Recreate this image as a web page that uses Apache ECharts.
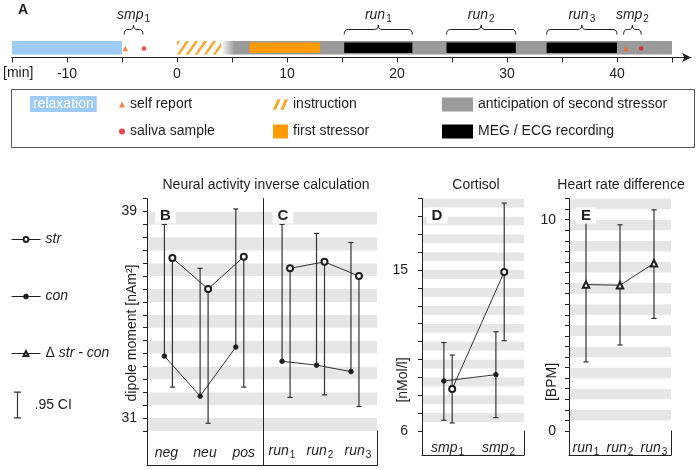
<!DOCTYPE html>
<html>
<head>
<meta charset="utf-8">
<title>Stress protocol and results</title>
<script src="https://cdn.jsdelivr.net/npm/echarts@6/dist/echarts.min.js"></script>
<style>
html, body { margin: 0; padding: 0; background: #fff; }
#chart { width: 699px; height: 470px; }
</style>
</head>
<body>
<div id="chart"></div>
<script>
// ---------- data ----------
// timeline (minutes)
var relaxation = [[-15, -5]];
var instruction = [[0, 4]];
var anticipation = [[4, 45]];
var firstStressor = [[6.6, 13]];
var recordings = [[15.2, 21.4], [24.5, 30.8], [33.6, 40]];
var selfReportTimes = [-4.7, 40.8];
var salivaTimes = [-3, 42.2];
var braceRanges = [[-4.8, -3.1], [15.2, 21.4], [24.5, 30.8], [33.6, 40], [40.6, 42.2]];
var braceLabels = ['smp1', 'run1', 'run2', 'run3', 'smp2'];

// categories
var emotionCats = ['neg', 'neu', 'pos'];
var runCats = ['run1', 'run2', 'run3'];
var sampleCats = ['smp1', 'smp2'];

// B: dipole moment by emotion
var bStrMean = [37.2, 36.0, 37.25];
var bStrLow = [32.2, 30.8, 32.2];
var bConMean = [33.4, 31.85, 33.75];
var bConHigh = [38.5, 36.8, 39.1];

// C: dipole moment by run
var cStrMean = [36.8, 37.05, 36.5];
var cStrLow = [31.8, 31.9, 31.45];
var cConMean = [33.2, 33.05, 32.8];
var cConHigh = [38.5, 38.15, 37.8];

// D: cortisol
var dStrMean = [8.35, 14.9];
var dStrLow = [6.45, 11.05];
var dStrHigh = [10.25, 18.75];
var dConMean = [8.8, 9.15];
var dConLow = [6.6, 6.75];
var dConHigh = [10.95, 11.55];

// E: heart rate difference
var eDiffMean = [6.93, 6.9, 7.94];
var eDiffLow = [3.27, 4.07, 5.33];
var eDiffHigh = [10.5, 9.76, 10.47];

// ---------- style ----------
var INK = '#1e1e1e', BAR_INK = '#333', STRIPE = '#e6e6e6';
var BLUE = '#9ecbf4', ORANGE = '#ff9a00', HATCH = '#f7a830', GRAY = '#9b9b9b';
var REPORT = '#f06a1e', SALIVA = '#e1191e';
var FONT = '"Liberation Sans", Arial, sans-serif';
var FRAME = { color: '#222', width: 1 };
var MAIN_TOP = 198.6, MAIN_H = 232.4;
var CAP = 2.6;
var CI_PATH = 'path://M0,0h7v1.2h-2.9v24.6h2.9v1.2h-7v-1.2h2.9v-24.6h-2.9z';
var HATCH_PATH = 'path://M4,0L7,0L3,10L0,10Z M11,0L14,0L10,10L7,10Z';

var AXIS_RICH = {
  i: { fontSize: 14, fontStyle: 'italic', color: INK, fontFamily: FONT },
  s: { fontSize: 10, fontStyle: 'normal', color: INK, fontFamily: FONT, padding: [8, 0, 0, 1] }
};
var ZR_RICH = {
  i: { fontSize: 14, fontStyle: 'italic', fill: INK, fontFamily: FONT },
  s: { fontSize: 10, fontStyle: 'normal', fill: INK, fontFamily: FONT, padding: [8, 0, 0, 1] }
};

function sub(s) {
  var m = /^([a-z]+)(\d)$/.exec(s);
  return m ? '{i|' + m[1] + '}{s|' + m[2] + '}' : '{i|' + s + '}';
}

var grids = [], xAxes = [], yAxes = [], series = [];

function grid(left, top, width, height) {
  grids.push({ left: left, top: top, width: width, height: height, outerBoundsMode: 'none' });
  return grids.length - 1;
}
function addX(o) { xAxes.push(o); return xAxes.length - 1; }
function addY(o) { yAxes.push(o); return yAxes.length - 1; }

function frameAxis(g, pos) {
  return {
    gridIndex: g, type: 'value', position: pos, min: 0, max: 1,
    axisLine: { show: true, onZero: false, lineStyle: FRAME },
    axisTick: { show: false }, axisLabel: { show: false }, splitLine: { show: false }
  };
}

// category strip under a panel: bottom line, side lines, labels
function strip(left, width, height, cats, margin) {
  var g = grid(left, MAIN_TOP + MAIN_H, width, height);
  addX({
    gridIndex: g, type: 'category', data: cats, boundaryGap: true,
    axisLine: { show: true, onZero: false, lineStyle: FRAME },
    axisTick: { show: false }, splitLine: { show: false },
    axisLabel: { inside: true, margin: margin, interval: 0, formatter: sub, rich: AXIS_RICH }
  });
  addY(frameAxis(g, 'left'));
  addY(frameAxis(g, 'right'));
}

function valueAxis(g, min, max, interval, o) {
  var a = {
    gridIndex: g, type: 'value', min: min, max: max, interval: interval,
    axisLine: { show: true, onZero: false, lineStyle: FRAME },
    axisTick: { show: true, length: 4, lineStyle: FRAME },
    axisLabel: { show: false },
    splitLine: { show: false },
    splitArea: { show: false }
  };
  for (var k in o) a[k] = o[k];
  return addY(a);
}

function labelsAt(list, margin) {
  return {
    margin: margin, fontSize: 14, color: INK, fontFamily: FONT,
    formatter: function (v) { return list.indexOf(v) >= 0 ? String(v) : ''; }
  };
}

function renderCI(params, api) {
  var x = api.value(0);
  var p1 = api.coord([x, api.value(1)]);
  var p2 = api.coord([x, api.value(2)]);
  var st = { stroke: BAR_INK, lineWidth: 1.2 };
  var kids = [
    { type: 'line', shape: { x1: p1[0], y1: p1[1], x2: p2[0], y2: p2[1] }, style: st },
    { type: 'line', shape: { x1: p2[0] - CAP, y1: p2[1], x2: p2[0] + CAP, y2: p2[1] }, style: st }
  ];
  if (api.value(3)) {
    kids.push({ type: 'line', shape: { x1: p1[0] - CAP, y1: p1[1], x2: p1[0] + CAP, y2: p1[1] }, style: st });
  }
  return { type: 'group', children: kids };
}

function ciSeries(xi, yi, rows) {
  return {
    type: 'custom', name: '.95 CI', xAxisIndex: xi, yAxisIndex: yi,
    itemStyle: { color: BAR_INK }, renderItem: renderCI, data: rows, z: 2, silent: true
  };
}

function meanSeries(name, xi, yi, pts, symbol, size) {
  return {
    type: 'line', name: name, xAxisIndex: xi, yAxisIndex: yi, data: pts,
    symbol: symbol, symbolSize: size, silent: true, z: 3,
    lineStyle: { color: INK, width: 0.9 },
    itemStyle: { color: INK, borderColor: INK, borderWidth: 1 }
  };
}

function shift(arr, off) {
  return arr.map(function (v, i) { return [i + 1 + off, v]; });
}
function oneSided(mean, end, off) {
  return mean.map(function (v, i) { return [i + 1 + off, v, end[i], 0]; });
}
function twoSided(low, high, off) {
  return low.map(function (v, i) { return [i + 1 + off, v, high[i], 1]; });
}

// ---------- A: timeline ----------
var BAND_H = 13.5;
var gArrow = grid(12, 41, 679, 16.5);
addX({
  gridIndex: gArrow, type: 'value', min: 0, max: 1,
  axisLine: { show: true, onZero: false, symbol: ['none', 'arrow'], symbolSize: [7, 9], lineStyle: FRAME },
  axisTick: { show: false }, axisLabel: { show: false }, splitLine: { show: false }
});
addY({ gridIndex: gArrow, type: 'value', min: 0, max: 1, show: false });

var gTime = grid(12, 41, 660, 16.5);
var tx = addX({
  gridIndex: gTime, type: 'value', min: -15, max: 45, interval: 5,
  axisLine: { show: true, onZero: false, lineStyle: FRAME },
  axisTick: { show: true, length: 5, lineStyle: FRAME },
  axisLabel: {
    margin: 10, fontSize: 14, color: INK, fontFamily: FONT,
    formatter: function (v) { return v % 10 === 0 ? String(v) : ''; }
  },
  splitLine: { show: false }
});
var ty = addY({ gridIndex: gTime, type: 'value', min: 0, max: 1, show: false });

function hatchPattern() {
  var c = document.createElement('canvas');
  c.width = 9; c.height = 13;
  var g = c.getContext('2d');
  g.strokeStyle = HATCH; g.lineWidth = 2.6;
  g.beginPath();
  [-9, 0, 9].forEach(function (dx) { g.moveTo(dx, 13); g.lineTo(dx + 9, 0); });
  g.stroke();
  return { image: c, repeat: 'repeat' };
}
var HATCH_FILL = hatchPattern();

function band(fill, inset) {
  return function (params, api) {
    var cs = params.coordSys;
    var x0 = api.coord([api.value(0), 0])[0];
    var x1 = api.coord([api.value(1), 0])[0];
    return {
      type: 'rect',
      shape: { x: x0, y: cs.y + inset, width: x1 - x0, height: BAND_H - 2 * inset },
      style: { fill: typeof fill === 'function' ? fill() : fill }
    };
  };
}
function fadeIn() {
  return new echarts.graphic.LinearGradient(0, 0, 1, 0, [
    { offset: 0, color: 'rgba(155,155,155,0)' },
    { offset: 0.03, color: GRAY },
    { offset: 1, color: GRAY }
  ]);
}

function renderBrace(params, api) {
  var cs = params.coordSys;
  var a = api.coord([api.value(0), 0])[0];
  var b = api.coord([api.value(1), 0])[0];
  var m = (a + b) / 2, r = Math.min(4, (b - a) / 5);
  var yEnd = cs.y - 6.5, yMid = cs.y - 11.5, yTop = cs.y - 16;
  var st = { stroke: INK, lineWidth: 1, fill: null };
  return {
    type: 'group',
    children: [
      { type: 'bezierCurve', shape: { x1: a, y1: yEnd, x2: a + r, y2: yMid, cpx1: a, cpy1: yMid }, style: st },
      { type: 'line', shape: { x1: a + r, y1: yMid, x2: m - r, y2: yMid }, style: st },
      { type: 'bezierCurve', shape: { x1: m - r, y1: yMid, x2: m, y2: yTop, cpx1: m, cpy1: yMid }, style: st },
      { type: 'bezierCurve', shape: { x1: m, y1: yTop, x2: m + r, y2: yMid, cpx1: m, cpy1: yMid }, style: st },
      { type: 'line', shape: { x1: m + r, y1: yMid, x2: b - r, y2: yMid }, style: st },
      { type: 'bezierCurve', shape: { x1: b - r, y1: yMid, x2: b, y2: yEnd, cpx1: b, cpy1: yMid }, style: st },
      {
        type: 'text', x: m, y: cs.y - 26,
        style: {
          text: sub(braceLabels[params.dataIndex]), rich: ZR_RICH,
          fontSize: 14, fontFamily: FONT, fill: INK, align: 'center', verticalAlign: 'middle'
        }
      }
    ]
  };
}

series.push(
  { type: 'custom', name: 'anticipation of second stressor', xAxisIndex: tx, yAxisIndex: ty, data: anticipation,
    itemStyle: { color: GRAY }, renderItem: band(fadeIn, 0), z: 1, silent: true },
  { type: 'custom', name: 'relaxation', xAxisIndex: tx, yAxisIndex: ty, data: relaxation,
    itemStyle: { color: BLUE }, renderItem: band(BLUE, 0), z: 1, silent: true },
  { type: 'custom', name: 'instruction', xAxisIndex: tx, yAxisIndex: ty, data: instruction,
    itemStyle: { color: HATCH }, renderItem: band(HATCH_FILL, 0), z: 1, silent: true },
  { type: 'custom', name: 'first stressor', xAxisIndex: tx, yAxisIndex: ty, data: firstStressor,
    itemStyle: { color: ORANGE }, renderItem: band(ORANGE, 1.5), z: 2, silent: true },
  { type: 'custom', name: 'MEG / ECG recording', xAxisIndex: tx, yAxisIndex: ty, data: recordings,
    itemStyle: { color: '#000' }, renderItem: band('#000', 1.5), z: 2, silent: true },
  { type: 'scatter', name: 'self report', xAxisIndex: tx, yAxisIndex: ty,
    data: selfReportTimes.map(function (t) { return [t, 0]; }),
    symbol: 'triangle', symbolSize: 5.5, symbolOffset: [0, -9], itemStyle: { color: REPORT }, z: 3, silent: true },
  { type: 'scatter', name: 'saliva sample', xAxisIndex: tx, yAxisIndex: ty,
    data: salivaTimes.map(function (t) { return [t, 0]; }),
    symbol: 'circle', symbolSize: 4.5, symbolOffset: [0, -9], itemStyle: { color: SALIVA }, z: 3, silent: true },
  { type: 'custom', name: 'braces', xAxisIndex: tx, yAxisIndex: ty, data: braceRanges,
    renderItem: renderBrace, z: 3, silent: true }
);

// ---------- B ----------
var gB = grid(147, MAIN_TOP, 116, MAIN_H);
var xB = addX({ gridIndex: gB, type: 'value', min: 0.4, max: 3.65, show: false });
var yB = valueAxis(gB, 30.5, 39.5, 0.5, {
  axisLabel: labelsAt([31, 39], 10),
  splitArea: { show: true, areaStyle: { color: [STRIPE, '#fff'] } }
});
strip(147, 116, 34, emotionCats, 5);
var OFF_B = 0.112;
series.push(
  ciSeries(xB, yB, oneSided(bConMean, bConHigh, -OFF_B)),
  ciSeries(xB, yB, oneSided(bStrMean, bStrLow, OFF_B)),
  meanSeries('con', xB, yB, shift(bConMean, -OFF_B), 'circle', 4.5),
  meanSeries('str', xB, yB, shift(bStrMean, OFF_B), 'emptyCircle', 6)
);

// ---------- C ----------
var gC = grid(263, MAIN_TOP, 114, MAIN_H);
var xC = addX({ gridIndex: gC, type: 'value', min: 0.33, max: 3.64, show: false });
var yC = valueAxis(gC, 30.5, 39.5, 0.5, {
  axisTick: { show: false },
  splitArea: { show: true, areaStyle: { color: [STRIPE, '#fff'] } }
});
strip(263, 114, 34, runCats, 5);
var OFF_C = 0.116;
series.push(
  ciSeries(xC, yC, oneSided(cConMean, cConHigh, -OFF_C)),
  ciSeries(xC, yC, oneSided(cStrMean, cStrLow, OFF_C)),
  meanSeries('con', xC, yC, shift(cConMean, -OFF_C), 'circle', 4.5),
  meanSeries('str', xC, yC, shift(cStrMean, OFF_C), 'emptyCircle', 6)
);

// ---------- D ----------
var gD = grid(422, MAIN_TOP, 102, MAIN_H);
var xD = addX({ gridIndex: gD, type: 'value', min: 0.5, max: 2.46, show: false });
var yD = valueAxis(gD, 6, 19, 1, { axisLabel: labelsAt([6, 15], 14) });
addY({
  gridIndex: gD, type: 'value', position: 'right', min: 6, max: 19, interval: 0.5,
  axisLine: { show: false }, axisTick: { show: false }, axisLabel: { show: false },
  splitLine: { show: false }, splitArea: { show: true, areaStyle: { color: ['#fff', STRIPE] } }
});
strip(422, 102, 24, sampleCats, -2);
var OFF_D = 0.08;
series.push(
  ciSeries(xD, yD, twoSided(dConLow, dConHigh, -OFF_D)),
  ciSeries(xD, yD, twoSided(dStrLow, dStrHigh, OFF_D)),
  meanSeries('con', xD, yD, shift(dConMean, -OFF_D), 'circle', 4.5),
  meanSeries('str', xD, yD, shift(dStrMean, OFF_D), 'emptyCircle', 6)
);

// ---------- E ----------
var gE = grid(569, MAIN_TOP, 102, MAIN_H);
var xE = addX({ gridIndex: gE, type: 'value', min: 0.5, max: 3.5, show: false });
var yE = valueAxis(gE, 0, 11, 0.5, {
  axisLabel: labelsAt([0, 10], 13),
  splitArea: { show: true, areaStyle: { color: ['#fff', STRIPE] } }
});
strip(569, 102, 24, runCats, -2);
series.push(
  ciSeries(xE, yE, twoSided(eDiffLow, eDiffHigh, 0)),
  meanSeries('Δ str - con', xE, yE, shift(eDiffMean, 0), 'emptyTriangle', 6.5)
);

// ---------- legends ----------
var LEG_TEXT = { fontSize: 14, color: INK, fontFamily: FONT };
function legend(o) {
  var l = { orient: 'vertical', padding: 0, selectedMode: false, textStyle: LEG_TEXT };
  for (var k in o) l[k] = o[k];
  return l;
}
var legends = [
  legend({
    data: [{ name: 'relaxation', icon: 'none' }], left: 25, top: 96, itemWidth: 0, itemHeight: 0,
    textStyle: { fontSize: 14, color: '#fff', fontFamily: FONT, backgroundColor: BLUE, padding: [1, 3] }
  }),
  legend({
    data: [{ name: 'self report', icon: 'triangle' }, { name: 'saliva sample', icon: 'circle' }],
    left: 119, top: 97.5, itemWidth: 6, itemHeight: 6, itemGap: 13
  }),
  legend({
    data: [{ name: 'instruction', icon: HATCH_PATH }, { name: 'first stressor', icon: 'rect' }],
    left: 273, top: 97.5, itemWidth: 15, itemHeight: 14, itemGap: 13
  }),
  legend({
    data: [{ name: 'anticipation of second stressor', icon: 'rect' }, { name: 'MEG / ECG recording', icon: 'rect' }],
    left: 442, top: 97.5, itemWidth: 31, itemHeight: 14, itemGap: 13
  }),
  legend({
    data: ['str', 'con', 'Δ str - con'], left: 11, top: 232.5, itemWidth: 29, itemHeight: 6, itemGap: 43,
    lineStyle: { width: 1 }, itemStyle: { borderWidth: 1 },
    textStyle: {
      fontSize: 14, fontStyle: 'italic', color: INK, fontFamily: FONT,
      rich: {
        n: { fontSize: 14, fontStyle: 'normal', color: INK, fontFamily: FONT },
        i: { fontSize: 14, fontStyle: 'italic', color: INK, fontFamily: FONT }
      }
    },
    formatter: function (n) { return n.charAt(0) === 'Δ' ? '{n|Δ }{i|' + n.slice(2) + '}' : n; }
  }),
  legend({
    data: [{ name: '.95 CI', icon: CI_PATH }], left: 14, top: 391.5, itemWidth: 24, itemHeight: 27
  })
];

// ---------- annotations ----------
function txt(s, x, y, o) {
  var st = { text: s, fill: INK, font: '14px ' + FONT, align: 'left', verticalAlign: 'middle' };
  for (var k in o) st[k] = o[k];
  return { type: 'text', x: x, y: y, z: 100, style: st };
}
function panelLetter(s, x, y) {
  return txt(s, x, y, {
    font: 'bold 15px ' + FONT, align: 'center', backgroundColor: '#fff', padding: [1, 5, 0, 5]
  });
}
function yName(s, x, y) {
  var t = txt(s, x, y, { align: 'center' });
  t.rotation = Math.PI / 2;
  return t;
}

var graphics = [
  txt('A', 18, 10, { font: 'bold 14px ' + FONT }),
  txt('[min]', 3, 73),
  { type: 'rect', z: 0, shape: { x: 11.5, y: 89.5, width: 683, height: 58 },
    style: { fill: null, stroke: '#555', lineWidth: 1 } },
  txt('Neural activity inverse calculation', 266, 185, { align: 'center' }),
  txt('Cortisol', 476, 185, { align: 'center' }),
  txt('Heart rate difference', 621, 185, { align: 'center' }),
  panelLetter('B', 165.5, 215.5),
  panelLetter('C', 283, 215.5),
  panelLetter('D', 437, 215.5),
  panelLetter('E', 586, 215.5),
  yName('dipole moment [nAm²]', 132.5, 333),
  yName('[nMol/l]', 403, 380),
  yName('[BPM]', 552, 382)
];

var chart = echarts.init(document.getElementById('chart'), null, { renderer: 'canvas' });
chart.setOption({
  animation: false,
  backgroundColor: '#fff',
  textStyle: { fontFamily: FONT },
  grid: grids,
  xAxis: xAxes,
  yAxis: yAxes,
  legend: legends,
  graphic: graphics,
  series: series
});
</script>
</body>
</html>
